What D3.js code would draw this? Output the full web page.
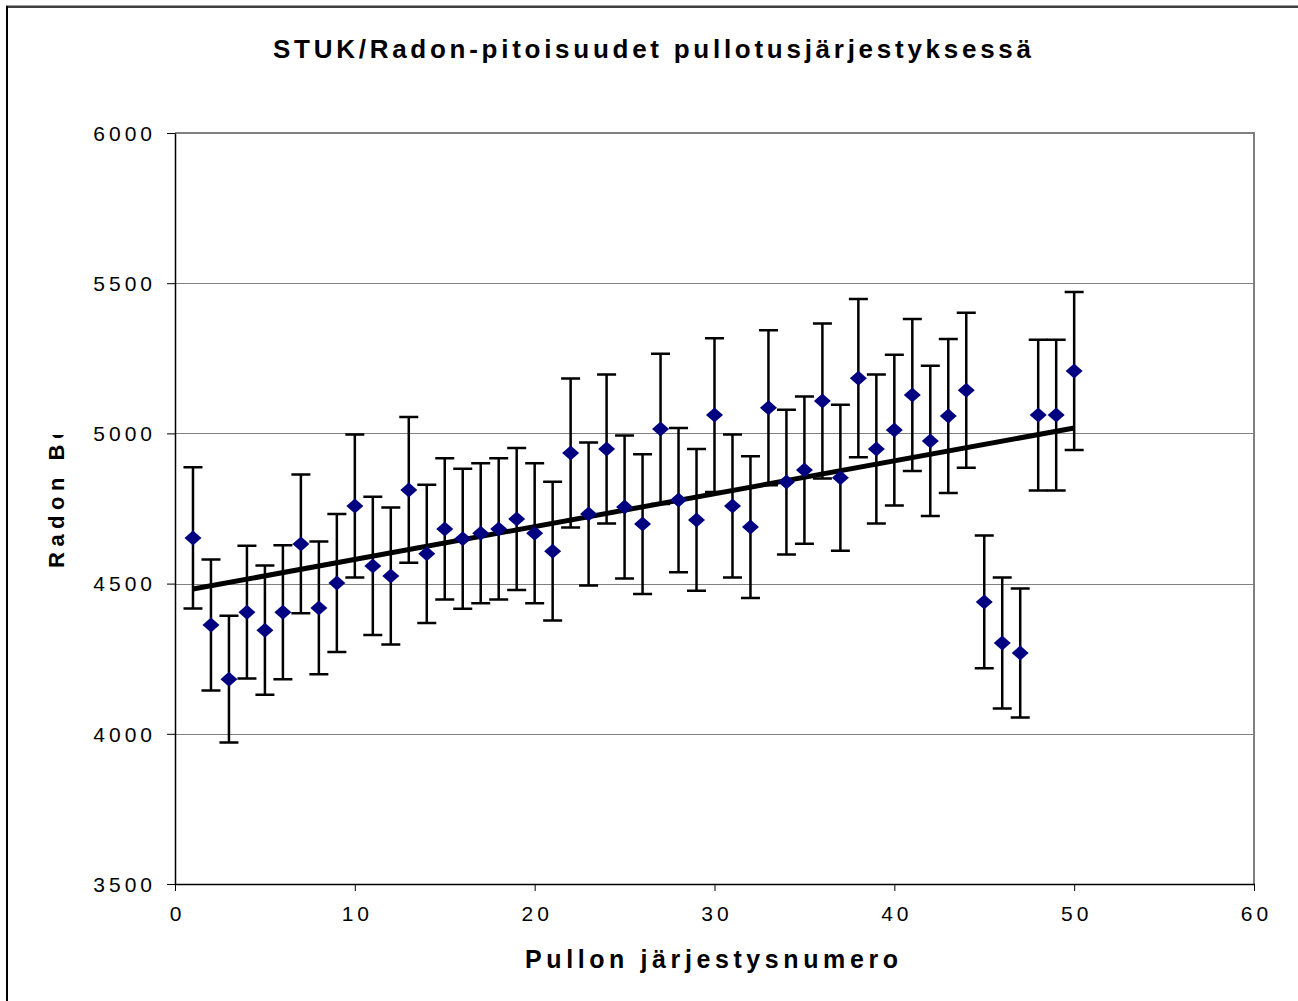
<!DOCTYPE html>
<html>
  <head>
    <meta charset="utf-8" />
    <script src="https://d3js.org/d3.v7.min.js"></script>
    <style>
      body { margin: 0; background: #fff; }
      text { font-family: "Liberation Sans", Arial, sans-serif; fill: #000; }
      .grid { stroke: #808080; stroke-width: 1px; }
      .errbar { stroke: #000; stroke-width: 2.5px; fill: none; }
      .trend { stroke: #000; stroke-width: 5px; }
    </style>
  </head>
  <body>
    <svg id="chart" width="1298" height="1001"></svg>
    <script>
      // bottle number in filling order, radon value (Bq/l) and error
      const bottle = d3.range(1, 51);
      const radon = [
        4652, 4362, 4182, 4405, 4345, 4405, 4632, 4419, 4502, 4758,
        4559, 4525, 4812, 4599, 4682, 4649, 4668, 4682, 4715, 4668,
        4608, 4935, 4732, 4948, 4755, 4698, 5015, 4778, 4712, 5061,
        4758, 4688, 5085, 4838, 4878, 5108, 4852, 5184, 4948, 5011,
        5128, 4975, 5058, 5144, 4439, 4302, 4269, 5061, 5061, 5208
      ];
      const radonErr = [
        235, 218, 211, 221, 215, 223, 231, 221, 230, 238,
        230, 228, 243, 230, 235, 233, 233, 235, 236, 233,
        231, 248, 238, 248, 238, 233, 250, 240, 236, 256,
        238, 236, 258, 241, 245, 258, 243, 263, 248, 251,
        253, 250, 256, 258, 221, 218, 215, 251, 251, 263
      ];
      // linear trend line end points
      const trendX = [1, 50];
      const trendY = [4482, 5018];

      const xTicks = [0, 10, 20, 30, 40, 50, 60];
      const yTicks = [3500, 4000, 4500, 5000, 5500, 6000];

      const svg = d3.select("#chart");
      const pLeft = 175, pRight = 1254, pTop = 133, pBottom = 884;

      const x = d3.scaleLinear().domain([0, 60]).range([pLeft, pRight]);
      const y = d3.scaleLinear().domain([3500, 6000]).range([pBottom, pTop]);

      // outer frame
      svg.append("line").attr("x1", 6).attr("x2", 1298).attr("y1", 5.5).attr("y2", 5.5)
        .attr("stroke", "#999").attr("stroke-width", 1);
      svg.append("line").attr("x1", 6).attr("x2", 1298).attr("y1", 7).attr("y2", 7)
        .attr("stroke", "#000").attr("stroke-width", 1.5);
      svg.append("line").attr("x1", 7).attr("x2", 7).attr("y1", 6).attr("y2", 1001)
        .attr("stroke", "#000").attr("stroke-width", 2);

      // gridlines
      svg.selectAll("line.grid")
        .data(yTicks.filter((d) => d > 3500 && d < 6000))
        .join("line")
        .attr("class", "grid")
        .attr("x1", pLeft).attr("x2", pRight)
        .attr("y1", (d) => Math.round(y(d)) + 0.5)
        .attr("y2", (d) => Math.round(y(d)) + 0.5);

      // plot frame: top + right gray
      svg.append("path")
        .attr("d", `M${pLeft},${pTop} H${pRight} V${pBottom}`)
        .attr("fill", "none").attr("stroke", "#808080").attr("stroke-width", 2);

      // axes
      const yAxis = svg.append("g").attr("transform", `translate(${pLeft},0)`)
        .call(d3.axisLeft(y).tickValues(yTicks).tickSize(8).tickSizeOuter(0).tickFormat(d3.format("d")));
      const xAxis = svg.append("g").attr("transform", `translate(0,${pBottom})`)
        .call(d3.axisBottom(x).tickValues(xTicks).tickSize(7).tickSizeOuter(0).tickFormat(d3.format("d")));

      [yAxis, xAxis].forEach((g) => {
        g.select(".domain").attr("stroke", "#000").attr("stroke-width", 1.5);
        g.selectAll(".tick line").attr("stroke", "#000").attr("stroke-width", 1);
        g.selectAll(".tick text")
          .attr("font-family", "Liberation Sans, Arial, sans-serif")
          .attr("font-size", 21)
          .attr("fill", "#000")
          .style("letter-spacing", "4px");
      });
      yAxis.selectAll(".tick text").attr("x", -19).attr("dy", "0.35em");
      xAxis.selectAll(".tick text").attr("y", 22).attr("dy", "0.71em").attr("dx", 2);

      // error bars
      const capW = 9.5;
      const bars = svg.append("g");
      bars.selectAll("path.errbar")
        .data(bottle)
        .join("path")
        .attr("class", "errbar")
        .attr("d", (d, i) => {
          const cx = x(d);
          const y1 = y(radon[i] + radonErr[i]);
          const y2 = y(radon[i] - radonErr[i]);
          return `M${cx},${y1} V${y2} M${cx - capW},${y1} H${cx + capW} M${cx - capW},${y2} H${cx + capW}`;
        });

      // trend line
      svg.append("line")
        .attr("class", "trend")
        .attr("x1", x(trendX[0])).attr("y1", y(trendY[0]))
        .attr("x2", x(trendX[1])).attr("y2", y(trendY[1]));

      // diamond markers
      svg.append("g").selectAll("path.pt")
        .data(bottle)
        .join("path")
        .attr("class", "pt")
        .attr("fill", "#000080")
        .attr("d", (d, i) => {
          const cx = x(d), cy = y(radon[i]);
          return `M${cx},${cy - 7.5} L${cx + 8.5},${cy} L${cx},${cy + 7.5} L${cx - 8.5},${cy} Z`;
        });

      // titles
      svg.append("text")
        .attr("x", 273).attr("y", 58)
        .attr("font-size", 26).attr("font-weight", "bold")
        .attr("textLength", 758).attr("lengthAdjust", "spacing")
        .text("STUK/Radon-pitoisuudet pullotusjärjestyksessä");

      svg.append("text")
        .attr("x", 525).attr("y", 968)
        .attr("font-size", 25).attr("font-weight", "bold")
        .attr("textLength", 373).attr("lengthAdjust", "spacing")
        .text("Pullon järjestysnumero");

      // y title, clipped like the original
      svg.append("clipPath").attr("id", "ytclip")
        .append("rect").attr("x", 30).attr("y", 435).attr("width", 60).attr("height", 150);
      svg.append("g").attr("clip-path", "url(#ytclip)")
        .append("text")
        .attr("transform", "translate(64,568) rotate(-90)")
        .attr("font-size", 22).attr("font-weight", "bold")
        .style("letter-spacing", "5.5px")
        .text("Radon Bq/l");
    </script>
  </body>
</html>
